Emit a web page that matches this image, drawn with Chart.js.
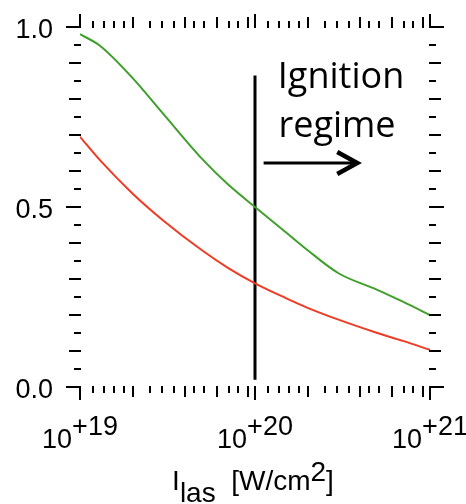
<!DOCTYPE html>
<html>
<head>
<meta charset="utf-8">
<script src="https://cdn.jsdelivr.net/npm/chart.js@4.4.1/dist/chart.umd.min.js"></script>
<style>
  body { margin: 0; background: #fff; }
  canvas { display: block; }
</style>
</head>
<body>
<canvas id="chartIgnition" width="466" height="504"></canvas>
<script>
// laser intensity, W/cm2
const intensity = [1e19, 1.3e19, 2e19, 3e19, 5e19, 7e19, 1e20, 1.5e20, 2e20, 3e20, 5e20, 7e20, 1e21];
const greenValues = [0.98, 0.948, 0.858, 0.758, 0.633, 0.563, 0.5, 0.43, 0.38, 0.316, 0.27, 0.237, 0.2];
const redValues = [0.695, 0.63, 0.537, 0.462, 0.379, 0.331, 0.288, 0.247, 0.22, 0.187, 0.15, 0.128, 0.103];

const yTickValues = [0, 0.5, 1];
const yTickLabels = ['0.0', '0.5', '1.0'];
const xTickValues = [1e19, 1e20, 1e21];
const xTickBase = '10';
const xTickExponents = ['+19', '+20', '+21'];

// threshold line and "ignition regime" arrow
const thresholdX = [1e20, 1e20];
const thresholdY = [0.02, 0.865];
const arrowX = [1.12e20, 3.84e20];
const arrowY = 0.622;
const regimeText = ['Ignition', 'regime'];

// minor tick spots inside each decade (fraction of the decade)
const shortTicks = [0.075, 0.135, 0.195, 0.25, 0.40, 0.47, 0.54, 0.65, 0.71, 0.85, 0.905];
const longTicks = [0.30, 0.60, 0.78, 0.96];

const labelFont = '27px "Liberation Sans", Arial, sans-serif';
const titleFont = '28px "Liberation Sans", Arial, sans-serif';

function seg(ctx, x1, y1, x2, y2) {
    ctx.beginPath();
    ctx.moveTo(x1, y1);
    ctx.lineTo(x2, y2);
    ctx.stroke();
}

const frameTicks = {
    id: 'frameTicks',
    afterDraw(chart) {
        const { ctx, chartArea: a } = chart;
        const x = chart.scales.x, y = chart.scales.y;
        ctx.save();
        ctx.strokeStyle = '#000';
        ctx.fillStyle = '#000';
        ctx.lineWidth = 2;

        // y ticks left and right, every 0.05
        for (let k = 0; k <= 20; k++) {
            const py = Math.round(y.getPixelForValue(k * 0.05));
            const len = k % 10 === 0 ? 14 : (k % 2 === 0 ? 11 : 6);
            seg(ctx, a.left - len, py, a.left + 1, py);
            seg(ctx, a.right - 1, py, a.right + len, py);
        }

        // x ticks bottom and top
        const xt = (v, len) => {
            const px = Math.round(x.getPixelForValue(v));
            seg(ctx, px, a.bottom - 1, px, a.bottom + len);
            seg(ctx, px, a.top + 1, px, a.top - len);
        };
        for (let d = 19; d <= 21; d++) {
            xt(Math.pow(10, d), 13);
            if (d === 21) break;
            shortTicks.forEach(f => xt(Math.pow(10, d + f), 6));
            longTicks.forEach(f => xt(Math.pow(10, d + f), 10));
        }

        // y tick labels
        ctx.font = labelFont;
        ctx.textAlign = 'right';
        ctx.textBaseline = 'middle';
        yTickValues.forEach((v, i) => {
            ctx.fillText(yTickLabels[i], a.left - 27, y.getPixelForValue(v) + 4);
        });

        // x tick labels 10^+n
        ctx.textBaseline = 'alphabetic';
        ctx.textAlign = 'left';
        xTickValues.forEach((v, i) => {
            const px = x.getPixelForValue(v);
            const w1 = ctx.measureText(xTickBase).width;
            const w2 = ctx.measureText(xTickExponents[i]).width;
            const start = px - (w1 + w2) / 2;
            ctx.fillText(xTickBase, start, a.bottom + 61);
            ctx.fillText(xTickExponents[i], start + w1, a.bottom + 48);
        });

        // axis title I_las [W/cm^2]
        ctx.font = titleFont;
        const parts = [['I', 0], ['las', 12], ['  [W/cm', 0], ['2', -9], [']', 0]];
        let total = 0;
        parts.forEach(p => { total += ctx.measureText(p[0]).width; });
        let cx = (a.left + a.right) / 2 - total / 2 - 2;
        parts.forEach(p => {
            ctx.fillText(p[0], cx, a.bottom + 103 + p[1]);
            cx += ctx.measureText(p[0]).width;
        });

        // annotation
        ctx.font = '36px "Open Sans", sans-serif';
        ctx.textAlign = 'center';
        const tx = x.getPixelForValue(3.06e20);
        ctx.fillText(regimeText[0], tx + 1, y.getPixelForValue(0.83));
        ctx.fillText(regimeText[1], tx - 3, y.getPixelForValue(0.694));

        const ax1 = x.getPixelForValue(arrowX[0]);
        const ax2 = x.getPixelForValue(arrowX[1]);
        const ay = Math.round(y.getPixelForValue(arrowY));
        ctx.lineWidth = 3;
        seg(ctx, ax1, ay, ax2 - 2, ay);
        ctx.lineWidth = 4.5;
        ctx.lineJoin = 'miter';
        ctx.beginPath();
        ctx.moveTo(ax2 - 20, ay - 11);
        ctx.lineTo(ax2, ay);
        ctx.lineTo(ax2 - 20, ay + 11);
        ctx.stroke();
        ctx.restore();
    }
};

new Chart(document.getElementById('chartIgnition'), {
    type: 'line',
    data: {
        datasets: [{
            data: intensity.map((v, i) => ({ x: v, y: greenValues[i] })),
            borderColor: '#3f9f2b',
            borderWidth: 2,
            pointRadius: 0,
            cubicInterpolationMode: 'monotone',
        }, {
            data: intensity.map((v, i) => ({ x: v, y: redValues[i] })),
            borderColor: '#ef3b24',
            borderWidth: 2,
            pointRadius: 0,
            cubicInterpolationMode: 'monotone',
        }, {
            data: thresholdX.map((v, i) => ({ x: v, y: thresholdY[i] })),
            borderColor: '#000',
            borderWidth: 3,
            pointRadius: 0,
        }],
    },
    options: {
        responsive: false,
        animation: false,
        layout: { padding: { left: 80, right: 36, top: 27, bottom: 117 } },
        plugins: {
            legend: { display: false },
            tooltip: { enabled: false },
        },
        scales: {
            x: { type: 'logarithmic', min: 1e19, max: 1e21, display: false },
            y: { type: 'linear', min: 0, max: 1, display: false },
        },
    },
    plugins: [frameTicks],
});
</script>
</body>
</html>
